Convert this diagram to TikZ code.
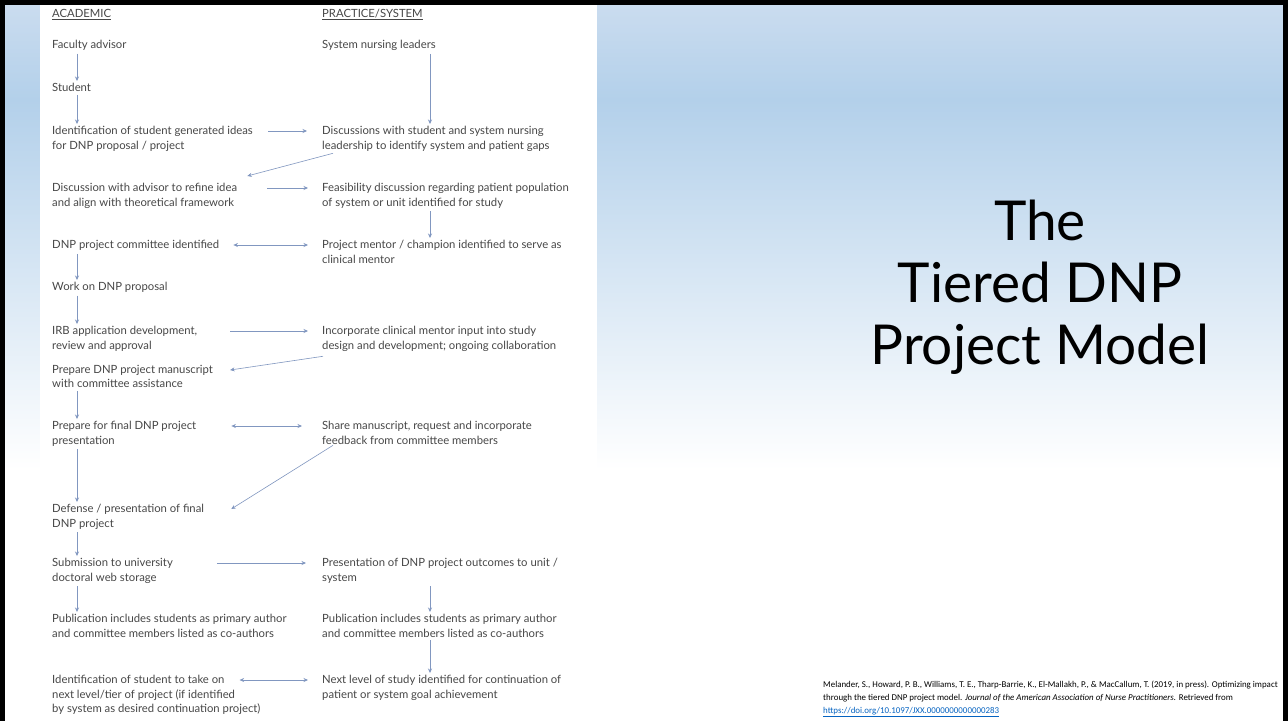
\documentclass[tikz,border=0pt]{standalone}
\usepackage{fontspec}
\setmainfont{Lato}
\newfontfamily\citefont{Carlito}
\usetikzlibrary{arrows.meta}

\definecolor{skytop}{HTML}{CADCEF}
\definecolor{skymid}{HTML}{B3D0EA}
\definecolor{flowline}{HTML}{8197C0}
\definecolor{flowtext}{HTML}{474747}
\definecolor{linkblue}{HTML}{0563C1}

\begin{document}
\begin{tikzpicture}[x=1pt, y=-1pt,
    stage/.style={anchor=north west, inner sep=0pt, align=left,
                  text=flowtext, font=\fontsize{11.3}{14.5}\selectfont},
    flow/.style={draw=flowline, line width=0.6pt,
                 -{Stealth[length=4.5pt,width=4pt]}},
    twoway/.style={flow, {Stealth[length=4.5pt,width=4pt]}-{Stealth[length=4.5pt,width=4pt]}},
    drop/.style={flow, shorten <=3pt, shorten >=2pt}]
  \useasboundingbox (0,0) rectangle (1288,721);
  \fill [white] (0,0) rectangle (1288,721);
  \shade [top color=skytop, bottom color=skymid] (5,5) rectangle (1283,100);
  \shade [top color=skymid, bottom color=white] (5,99.5) rectangle (1283,470);
  \fill [white] (40,5) rectangle (597,721);
  \fill [black] (0,0) rectangle (1288,5);
  \fill [black] (0,0) rectangle (5,721);
  \fill [black] (1283,0) rectangle (1288,721);

  % columns of the chart
  \coordinate (acol) at (77,0);
  \coordinate (rcol) at (430,0);

  \node [stage] (acad) at (52,9) {\underline{ACADEMIC}};
  \node [stage] (prac) at (322,9) {\underline{PRACTICE/SYSTEM}};
  \node [stage] (fac) at (52,40) {Faculty advisor};
  \node [stage] (sys) at (322,40) {System nursing leaders};
  \node [stage] (stu) at (52,83) {Student};
  \node [stage] (idea) at (52,126) {Identification of student generated ideas\\for DNP proposal / project};
  \node [stage] (gaps) at (322,126) {Discussions with student and system nursing\\leadership to identify system and patient gaps};
  \node [stage] (adv) at (52,183) {Discussion with advisor to refine idea\\and align with theoretical framework};
  \node [stage] (feas) at (322,183) {Feasibility discussion regarding patient population\\of system or unit identified for study};
  \node [stage] (comm) at (52,240) {DNP project committee identified};
  \node [stage] (ment) at (322,240) {Project mentor / champion identified to serve as\\clinical mentor};
  \node [stage] (work) at (52,282) {Work on DNP proposal};
  \node [stage] (irb) at (52,326) {IRB application development,\\review and approval};
  \node [stage] (inco) at (322,326) {Incorporate clinical mentor input into study\\design and development; ongoing collaboration};
  \node [stage] (manu) at (52,365) {Prepare DNP project manuscript\\with committee assistance};
  \node [stage] (pres) at (52,421) {Prepare for final DNP project\\presentation};
  \node [stage] (share) at (322,421) {Share manuscript, request and incorporate\\feedback from committee members};
  \node [stage] (defn) at (52,504) {Defense / presentation of final\\DNP project};
  \node [stage] (subm) at (52,558) {Submission to university\\doctoral web storage};
  \node [stage] (outc) at (322,558) {Presentation of DNP project outcomes to unit /\\system};
  \node [stage] (publ) at (52,614) {Publication includes students as primary author\\and committee members listed as co-authors};
  \node [stage] (publr) at (322,614) {Publication includes students as primary author\\and committee members listed as co-authors};
  \node [stage] (next) at (52,675) {Identification of student to take on\\next level/tier of project (if identified\\by system as desired continuation project)};
  \node [stage] (cont) at (322,675) {Next level of study identified for continuation of\\patient or system goal achievement};

  % down the columns
  \draw [drop] (fac.south -| acol) -- (stu.north -| acol);
  \draw [drop] (stu.south -| acol) -- (idea.north -| acol);
  \draw [drop] (sys.south -| rcol) -- (gaps.north -| rcol);
  \draw [drop] (feas.south -| rcol) -- (ment.north -| rcol);
  \draw [drop] (comm.south -| acol) -- (work.north -| acol);
  \draw [drop] (work.south -| acol) -- (irb.north -| acol);
  \draw [drop] (manu.south -| acol) -- (pres.north -| acol);
  \draw [drop] (pres.south -| acol) -- (defn.north -| acol);
  \draw [drop] (defn.south -| acol) -- (subm.north -| acol);
  \draw [drop] (subm.south -| acol) -- (publ.north -| acol);
  \draw [drop] (outc.south -| rcol) -- (publr.north -| rcol);
  \draw [drop] (publr.south -| rcol) -- (cont.north -| rcol);

  % across
  \draw [flow] ([xshift=15pt,yshift=-5pt]idea.north east) -- ([xshift=-15pt,yshift=-5pt]gaps.north west);
  \draw [flow] ([xshift=30pt,yshift=-5pt]adv.north east) -- ([xshift=-14pt,yshift=-5pt]feas.north west);
  \draw [twoway] ([xshift=14pt,yshift=-5pt]comm.north east) -- ([xshift=-14pt,yshift=-5pt]ment.north west);
  \draw [flow] ([xshift=33pt,yshift=-5pt]irb.north east) -- ([xshift=-14pt,yshift=-5pt]inco.north west);
  \draw [twoway] ([xshift=35pt,yshift=-5pt]pres.north east) -- ([xshift=-20pt,yshift=-5pt]share.north west);
  \draw [flow] ([xshift=44pt,yshift=-5pt]subm.north east) -- ([xshift=-16pt,yshift=-5pt]outc.north west);
  \draw [twoway] ([xshift=-21pt,yshift=-5pt]next.north east) -- ([xshift=-14pt,yshift=-5pt]cont.north west);

  % back from the practice side
  \draw [flow] ([xshift=11pt,yshift=-2pt]gaps.south west) -- ([xshift=10pt,yshift=7pt]adv.north east);
  \draw [flow] ([xshift=1pt,yshift=-5pt]inco.south west) -- ([xshift=17pt,yshift=-5pt]manu.north east);
  \draw [flow] ([xshift=11pt,yshift=-1pt]share.south west) -- ([xshift=27pt,yshift=-5pt]defn.north east);

  \node [align=center, font=\fontsize{55}{62}\selectfont] (title) at (1040,287)
    {The\\Tiered DNP\\Project Model};
  \node [anchor=north west, inner sep=0pt, align=left,
         font=\citefont\fontsize{8.9}{13}\selectfont] (cite) at (823,681)
    {Melander, S., Howard, P. B., Williams, T. E., Tharp-Barrie, K., El-Mallakh, P., \& MacCallum, T. (2019, in press). Optimizing impact\\
     through the tiered DNP project model. \textit{Journal of the American Association of Nurse Practitioners.} Retrieved from\\
     \textcolor{linkblue}{\underline{https://doi.org/10.1097/JXX.0000000000000283}}};
\end{tikzpicture}
\end{document}
